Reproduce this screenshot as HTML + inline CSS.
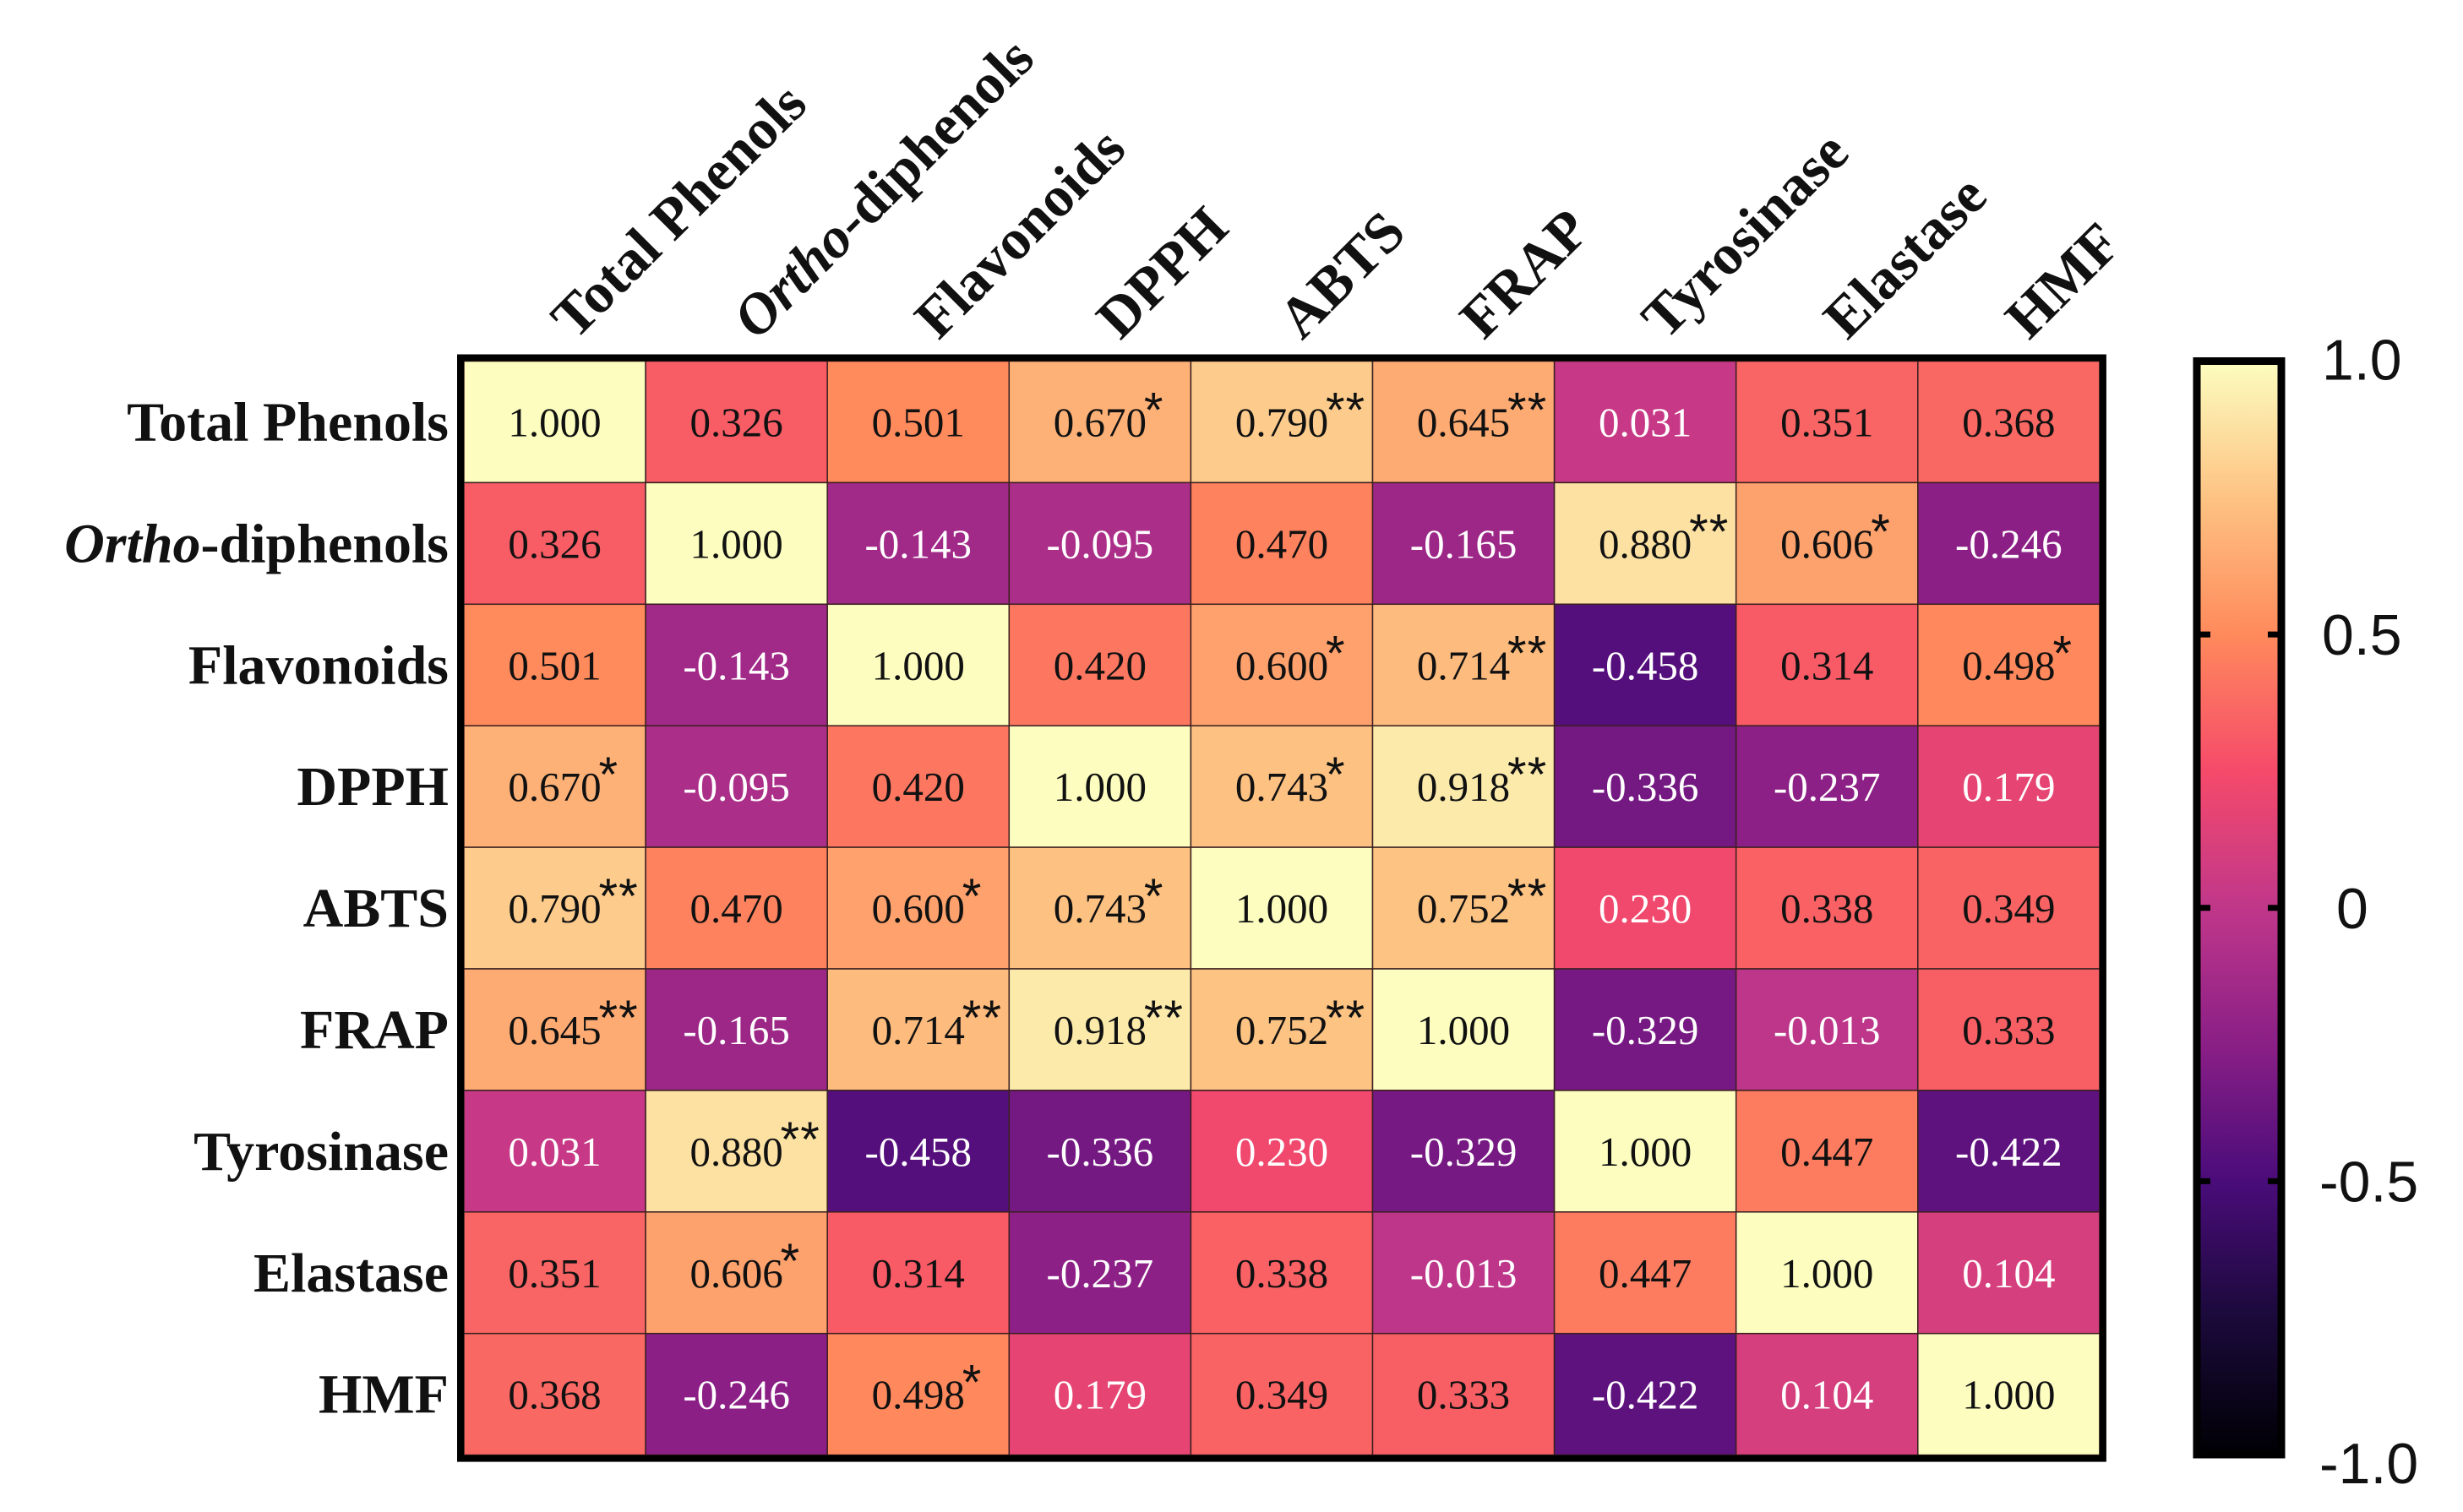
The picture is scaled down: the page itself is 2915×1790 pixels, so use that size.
<!DOCTYPE html>
<html><head><meta charset="utf-8"><style>
html,body{margin:0;padding:0;background:#fff;width:2915px;height:1790px;overflow:hidden}
svg{display:block}
</style></head><body>
<svg id="chart" width="2915" height="1790" viewBox="0 0 2915 1790" xmlns="http://www.w3.org/2000/svg">
<defs>
<linearGradient id="magma" x1="0" y1="1" x2="0" y2="0">
<stop offset="0" stop-color="#000004"/><stop offset="0.125" stop-color="#1a0a3a"/><stop offset="0.25" stop-color="#4a0c7a"/><stop offset="0.375" stop-color="#8a1f86"/><stop offset="0.5" stop-color="#c0378a"/><stop offset="0.625" stop-color="#f54a6a"/><stop offset="0.75" stop-color="#ff8a5c"/><stop offset="0.875" stop-color="#fdc383"/><stop offset="1" stop-color="#fcfdbf"/>
</linearGradient>
</defs>
<g id="cells"></g><g id="labels"></g><g id="cbar"></g>
</svg>
<script>
const categories = ["Total Phenols","Ortho-diphenols","Flavonoids","DPPH","ABTS","FRAP","Tyrosinase","Elastase","HMF"];
const values = [
[1.000,0.326,0.501,0.670,0.790,0.645,0.031,0.351,0.368],
[0.326,1.000,-0.143,-0.095,0.470,-0.165,0.880,0.606,-0.246],
[0.501,-0.143,1.000,0.420,0.600,0.714,-0.458,0.314,0.498],
[0.670,-0.095,0.420,1.000,0.743,0.918,-0.336,-0.237,0.179],
[0.790,0.470,0.600,0.743,1.000,0.752,0.230,0.338,0.349],
[0.645,-0.165,0.714,0.918,0.752,1.000,-0.329,-0.013,0.333],
[0.031,0.880,-0.458,-0.336,0.230,-0.329,1.000,0.447,-0.422],
[0.351,0.606,0.314,-0.237,0.338,-0.013,0.447,1.000,0.104],
[0.368,-0.246,0.498,0.179,0.349,0.333,-0.422,0.104,1.000]];
const stars = [
["","","","*","**","**","","",""],
["","","","","","","**","*",""],
["","","","","*","**","","","*"],
["*","","","","*","**","","",""],
["**","","*","*","","**","","",""],
["**","","**","**","**","","","",""],
["","**","","","","","","",""],
["","*","","","","","","",""],
["","","*","","","","","",""]];
const cbTicks = [1.0,0.5,0,-0.5,-1.0];
const cbTickLabels = ["1.0","0.5","0","-0.5","-1.0"];

const NS="http://www.w3.org/2000/svg";
const GX=549, GY=427.5, CW=215.1, CH=143.9, N=categories.length;
const CBX=2600, CBW=100, CBT=427.5, CBB=1722;
const xPos=i=>GX+i*CW, yPos=j=>GY+j*CH;
const cbY=v=>CBB-(v+1)/2*(CBB-CBT);
const stops=[[0,0,0,4],[.125,26,10,58],[.25,74,12,122],[.375,138,31,134],[.5,192,55,138],[.625,245,74,106],[.75,255,138,92],[.875,253,195,131],[1,252,253,191]];
function magma(v){let t=(v+1)/2;t=Math.max(0,Math.min(1,t));
 for(let k=1;k<stops.length;k++){if(t<=stops[k][0]){const a=stops[k-1],b=stops[k],f=(t-a[0])/(b[0]-a[0]);
 return `rgb(${[1,2,3].map(i=>Math.round(a[i]+(b[i]-a[i])*f)).join(',')})`;}}return 'rgb(252,253,191)';}
function mk(tag,attrs,parent){const e=document.createElementNS(NS,tag);for(const k in attrs)e.setAttribute(k,attrs[k]);parent.appendChild(e);return e;}
const cells=document.getElementById('cells'), labels=document.getElementById('labels'), cbar=document.getElementById('cbar');
const serif='"Liberation Serif", serif';
for(let r=0;r<N;r++)for(let c=0;c<N;c++){
 const v=values[r][c];
 const rect=mk('rect',{x:xPos(c),y:yPos(r),width:CW,height:CH,fill:magma(v),stroke:'#3a2020','stroke-width':1.5},cells);
 
 
 const t=mk('text',{x:xPos(c)+CW/2,y:yPos(r)+CH/2+17,'text-anchor':'middle','font-family':serif,'font-size':49,fill:v<0.3?'#fff':'#111'},cells);
 t.textContent=v.toFixed(3);
 
 
 if(stars[r][c]){const s=mk('text',{x:xPos(c)+CW/2+52,y:yPos(r)+CH/2+6,'font-family':'"Liberation Sans", sans-serif','font-size':58,fill:'#111','letter-spacing':1},cells);
 s.textContent=stars[r][c];
 
 }
}
const border=mk('rect',{x:GX-4,y:GY-4,width:CW*N+8,height:CH*N+8,fill:'none',stroke:'#000','stroke-width':8},cells);


function labelContent(t,name){
 if(name.startsWith('Ortho')){const a=document.createElementNS(NS,'tspan');a.setAttribute('font-style','italic');a.textContent='Ortho';t.appendChild(a);
 const b=document.createElementNS(NS,'tspan');b.textContent='-diphenols';t.appendChild(b);} else t.textContent=name;}
for(let i=0;i<N;i++){
 const rl=mk('text',{x:531,y:yPos(i)+CH/2+22,'text-anchor':'end','font-family':serif,'font-size':66,'font-weight':'bold',fill:'#111'},labels);
 labelContent(rl,categories[i]);
 
 
 const cx=xPos(i)+CW/2+24, cy=404;
 const cl=mk('text',{x:cx,y:cy,'font-family':serif,'font-size':68,'font-weight':'bold',fill:'#111',transform:`rotate(-45 ${cx} ${cy})`},labels);
 labelContent(cl,categories[i]);
 
 
}
const cb=mk('rect',{x:CBX,y:CBT,width:CBW,height:CBB-CBT,fill:'url(#magma)',stroke:'#000','stroke-width':9},cbar);


cbTicks.forEach((v,i)=>{
 const y=cbY(v);
 if(i>0&&i<cbTicks.length-1){
  const l1=mk('line',{x1:CBX,x2:CBX+16,y1:y,y2:y,stroke:'#000','stroke-width':7},cbar);
  
  
  const l2=mk('line',{x1:CBX+CBW-16,x2:CBX+CBW,y1:y,y2:y,stroke:'#000','stroke-width':7},cbar);
  
  
 }
 const tx=mk('text',{x:v<0?2745:(v===0?2765:2748),y:y+24+(i===0?-2:0)+(i===cbTicks.length-1?10:0),'font-family':'"Liberation Sans", sans-serif','font-size':68,fill:'#111'},cbar);
 tx.textContent=cbTickLabels[i];
 
 
});
</script>
</body></html>
